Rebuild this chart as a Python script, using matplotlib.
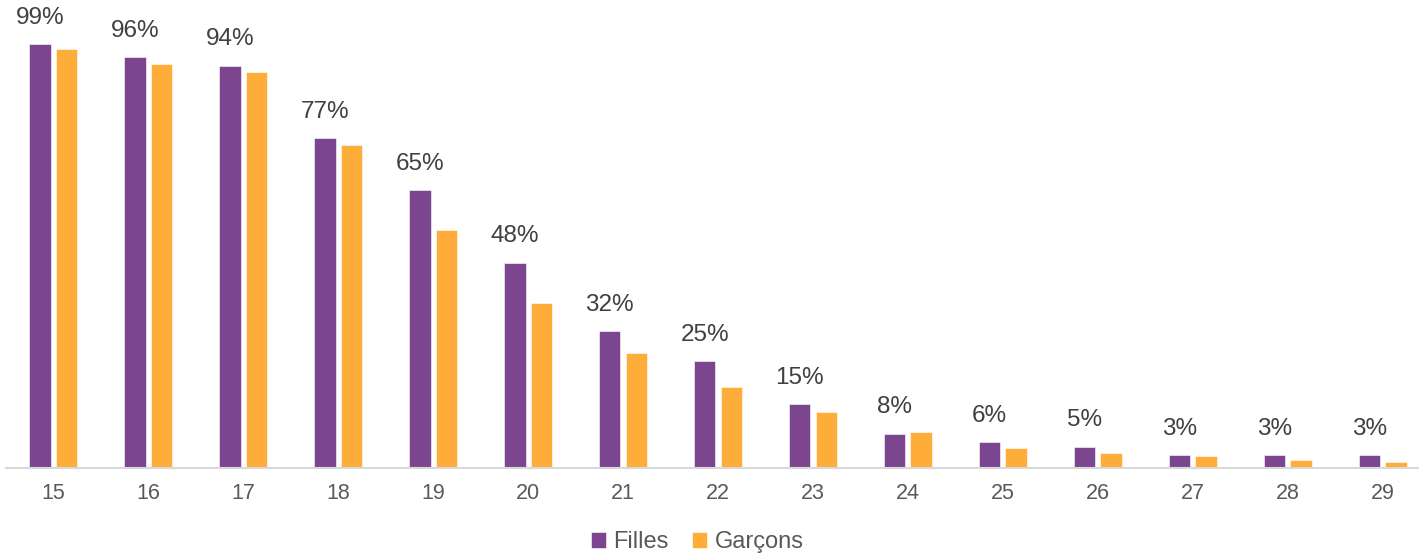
import matplotlib
matplotlib.use("Agg")
import matplotlib.pyplot as plt
import numpy as np

ages = ["15", "16", "17", "18", "19", "20", "21", "22", "23", "24", "25", "26", "27", "28", "29"]
filles = [99, 96, 94, 77, 65, 48, 32, 25, 15, 8, 6, 5, 3, 3, 3]
garcons = [98, 94.4, 92.5, 75.5, 55.6, 38.5, 26.9, 19, 13.1, 8.4, 4.7, 3.5, 2.8, 1.9, 1.4]

purple = "#7B4590"
orange = "#FFAD3A"

plt.rcParams["font.family"] = ["Liberation Sans", "DejaVu Sans"]

fig = plt.figure(figsize=(14.19, 5.56), dpi=100)
ax = fig.add_axes([6 / 1419, 88 / 556, 1424 / 1419, 428 / 556])

x = np.arange(len(ages))
w = 0.225
gap = 0.055
b1 = ax.bar(x - (w + gap) / 2, filles, w, color=purple, label="Filles",
            edgecolor="white", linewidth=0.4)
b2 = ax.bar(x + (w + gap) / 2, garcons, w, color=orange, label="Garçons",
            edgecolor="white", linewidth=0.4)

for rect, v in zip(b1, filles):
    ax.annotate(f"{v}%", (rect.get_x() + rect.get_width() / 2, v),
                xytext=(0, 11), textcoords="offset points",
                ha="center", va="bottom", fontsize=17.5, color="#404040")

ax.set_xlim(-0.5, len(ages) - 0.5)
ax.set_ylim(0, 100)
ax.set_xticks(x)
ax.set_xticklabels(ages)
ax.tick_params(axis="x", length=0, pad=11, labelsize=15.5, labelcolor="#595959")
ax.set_yticks([])
for s in ["top", "right", "left"]:
    ax.spines[s].set_visible(False)
ax.spines["bottom"].set_color("#D9D9D9")
ax.spines["bottom"].set_linewidth(1.5)

fig.legend(loc="center", bbox_to_anchor=(697 / 1419, 1 - 542 / 556), ncol=2,
           frameon=False, fontsize=17, handlelength=0.65, handleheight=0.65,
           handletextpad=0.3, columnspacing=1.0, labelcolor="#595959")

fig.savefig("out.png", dpi=100)
